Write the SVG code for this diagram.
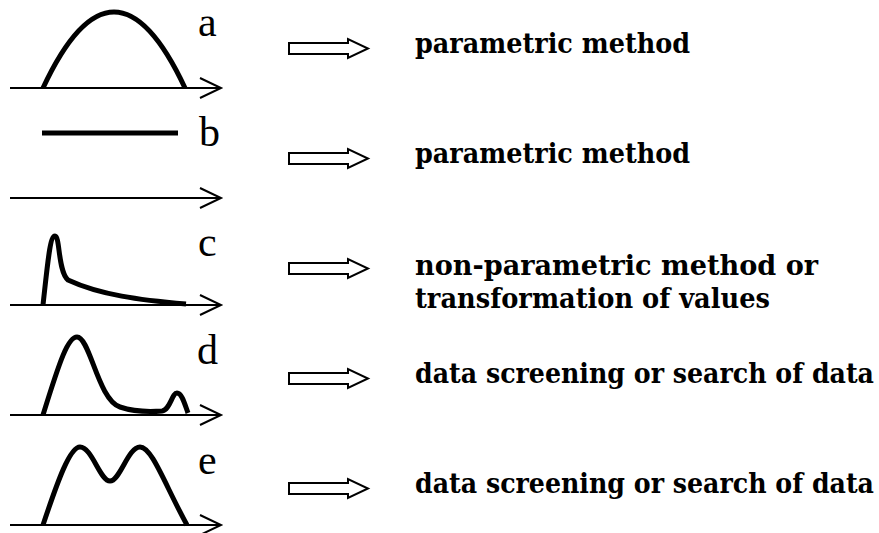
<svg xmlns="http://www.w3.org/2000/svg" width="879" height="533" viewBox="0 0 879 533">
<style>
.axis{fill:none;stroke:#000;stroke-width:2}
.curve{fill:none;stroke:#000;stroke-width:5;stroke-linejoin:round}
.harrow{fill:#fff;stroke:#000;stroke-width:2}
</style>
<defs>
<path id="ax" class="axis" d="M10,0 H220 M200,-10 L221,0 L200,10"/>
<path id="ha" class="harrow" d="M289,-5.5 H348 V-9.5 L368,0 L348,9.5 V5.5 H289 Z"/>
</defs>
<rect width="879" height="533" fill="#fff"/>
<g font-family="Liberation Serif, DejaVu Serif, serif" font-size="42" fill="#000">
<g id="node-a">
<use href="#ax" y="88"/>
<path class="curve" d="M43,88 Q114,-64 185,88"/>
<text x="198" y="36">a</text>
</g>
<g id="node-b">
<use href="#ax" y="198"/>
<path class="curve" d="M42,133 H178"/>
<text x="199" y="146">b</text>
</g>
<g id="node-c">
<use href="#ax" y="305"/>
<path class="curve" d="M43,305 C48,260 50,236 55,236 C60,236 58,272 68,280 C100,295 140,300 186,304"/>
<text x="198" y="256">c</text>
</g>
<g id="node-d">
<use href="#ax" y="415"/>
<path class="curve" d="M43,415 C60,360 68,337 77,337 C90,337 98,400 120,407 C135,412 150,412 162,411 C170,410 172,393 177,393 C182,393 185,405 188,413"/>
<text x="197" y="364">d</text>
</g>
<g id="node-e">
<use href="#ax" y="525"/>
<path class="curve" d="M43,525 C58,480 70,447 80,447 C92,447 100,481 110,481 C120,481 128,447 140,447 C152,447 165,485 187,525"/>
<text x="198" y="474">e</text>
</g>
</g>
<g id="connectors">
<use href="#ha" y="48.5"/>
<use href="#ha" y="158.5"/>
<use href="#ha" y="268.5"/>
<use href="#ha" y="378.5"/>
<use href="#ha" y="488.5"/>
</g>
<g font-family="DejaVu Serif, serif" font-size="28" font-weight="bold" fill="#000">
<g id="text-a"><text x="415" y="53" textLength="275" lengthAdjust="spacingAndGlyphs">parametric method</text></g>
<g id="text-b"><text x="415" y="163" textLength="275" lengthAdjust="spacingAndGlyphs">parametric method</text></g>
<g id="text-c">
<text x="415" y="275" textLength="403" lengthAdjust="spacingAndGlyphs">non-parametric method or</text>
<text x="415" y="308" textLength="355" lengthAdjust="spacingAndGlyphs">transformation of values</text>
</g>
<g id="text-d"><text x="415" y="383" textLength="459" lengthAdjust="spacingAndGlyphs">data screening or search of data</text></g>
<g id="text-e"><text x="415" y="493" textLength="459" lengthAdjust="spacingAndGlyphs">data screening or search of data</text></g>
</g>
</svg>
